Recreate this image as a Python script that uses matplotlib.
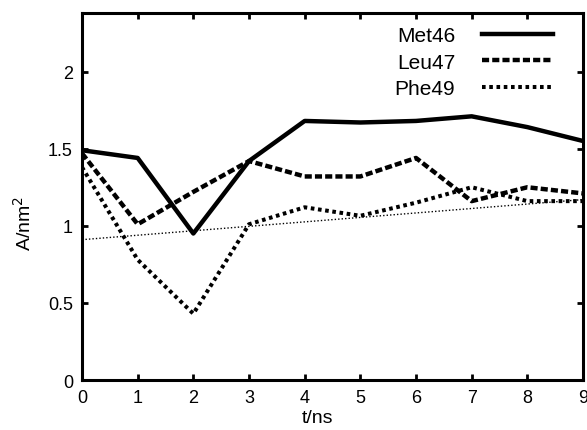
import numpy as np
import matplotlib.pyplot as plt

plt.rcParams['font.family'] = ['Liberation Sans', 'DejaVu Sans']

t = [0, 1, 2, 3, 4, 5, 6, 7, 8, 9]
met46 = [1.49, 1.44, 0.95, 1.42, 1.68, 1.67, 1.68, 1.71, 1.64, 1.55]
leu47 = [1.47, 1.01, 1.22, 1.42, 1.32, 1.32, 1.44, 1.16, 1.25, 1.21]
phe49 = [1.38, 0.78, 0.43, 1.01, 1.12, 1.065, 1.15, 1.25, 1.16, 1.16]
# linear trend drawn as a thin dotted line
trend_t = [0, 9]
trend_y = [0.91, 1.17]

fig = plt.figure(figsize=(5.87, 4.31), dpi=100)
ax = fig.add_axes([0.1397, 0.116, 0.8535, 0.8515])

ax.plot(t, met46, color='black', lw=3.2, ls='-', label='Met46')
ax.plot(t, leu47, color='black', lw=3.2, ls=(0, (1.6, 0.7)), label='Leu47')
ax.plot(t, phe49, color='black', lw=2.9, ls=(0, (0.9, 0.9)), label='Phe49')
ax.plot(trend_t, trend_y, color='black', lw=1.0, ls=(0, (1, 1.5)))

ax.set_xlim(0, 9)
ax.set_ylim(0, 2.38)
ax.set_xticks(t)
ax.set_yticks([0, 0.5, 1, 1.5, 2])
ax.set_yticklabels(['0', '0.5', '1', '1.5', '2'])

for s in ax.spines.values():
    s.set_linewidth(2.2)
ax.tick_params(direction='in', length=4, width=2, top=True, right=True,
               labelsize=13)
ax.tick_params(axis='x', pad=6.5)
ax.tick_params(axis='y', pad=6.5)

ax.set_xlabel('t/ns', fontsize=14)
ax.set_ylabel('A/nm$^2$', fontsize=14)
ax.xaxis.set_label_coords(0.471, -0.079)
ax.yaxis.set_label_coords(-0.094, 0.43)

leg = ax.legend(loc='upper right', bbox_to_anchor=(0.940, 0.964), frameon=False,
                markerfirst=False, fontsize=15, handlelength=3.4,
                handletextpad=1.3, labelspacing=0.36, borderpad=0,
                borderaxespad=0)
for txt in leg.get_texts():
    txt.set_ha('right')

fig.savefig('out.png', dpi=100)
